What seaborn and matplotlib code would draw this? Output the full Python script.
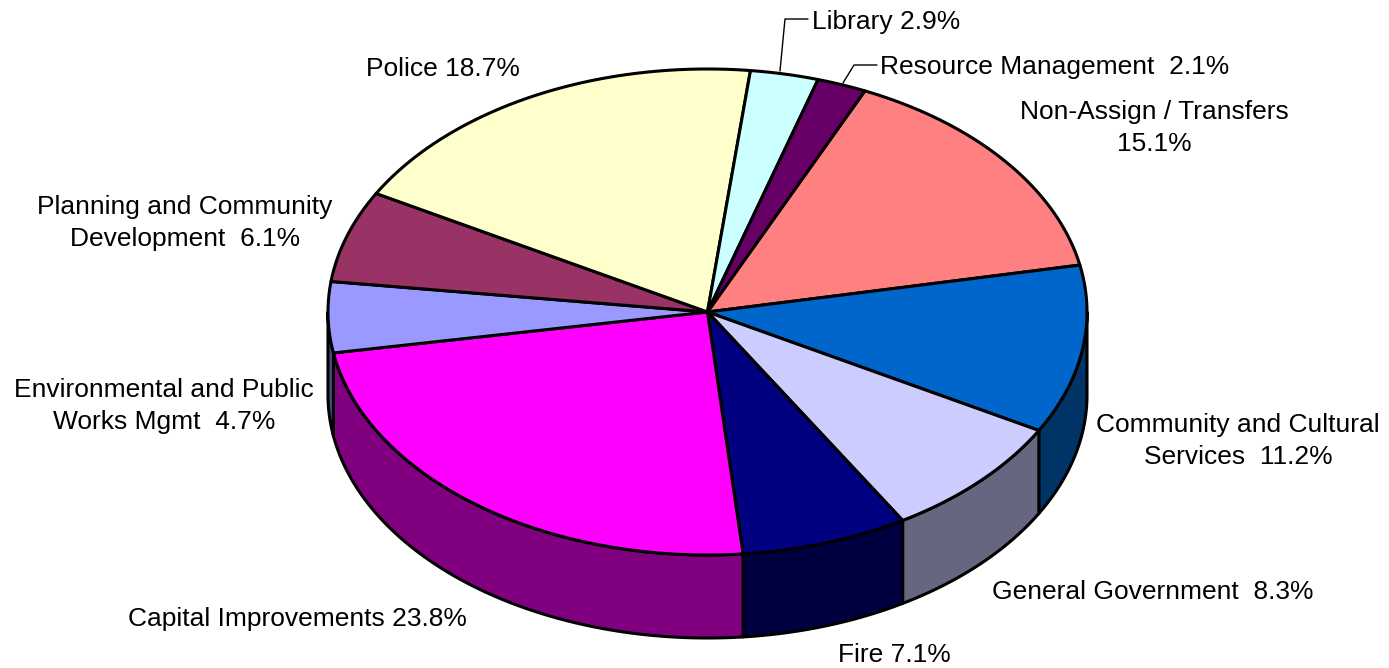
import numpy as np
import pandas as pd
import matplotlib
matplotlib.use('Agg')
import matplotlib.pyplot as plt
from matplotlib.patches import Polygon
import seaborn as sns

# data, clockwise from the Resource / Non-Assign edge
DEPARTMENTS = ['Non-Assign / Transfers', 'Community and Cultural Services', 'General Government',
               'Fire', 'Capital Improvements', 'Environmental and Public Works Mgmt',
               'Planning and Community Development', 'Police', 'Library', 'Resource Management']
SHARES = [15.1, 11.2, 8.3, 7.1, 23.8, 4.7, 6.1, 18.7, 2.9, 2.1]
COLORS = ['#FF8080', '#0066CC', '#CCCCFF', '#000080', '#FF00FF',
          '#9999FF', '#993366', '#FFFFCC', '#CCFFFF', '#660066']
LABELS = ['Non-Assign / Transfers\n15.1%', 'Community and Cultural\nServices  11.2%',
          'General Government  8.3%', 'Fire 7.1%', 'Capital Improvements 23.8%',
          'Environmental and Public\nWorks Mgmt  4.7%', 'Planning and Community\nDevelopment  6.1%',
          'Police 18.7%', 'Library 2.9%', 'Resource Management  2.1%']

# layout (pixels)
LABEL_POS = [(1154, 128), (1238, 441), (1153, 592), (894, 655), (297, 619),
             (164, 406), (185, 223), (443, 69), (886, 22), (1055, 67)]
CX, CY = 707.5, 312
RX, RY = 379.5, 243
DEPTH = 83
START_ANGLE = 24.5
EDGE_W = 2.2


def arc(a0, a1, dy=0):
    t = np.radians(np.linspace(a0, a1, 200))
    return np.column_stack([CX + RX * np.sin(t), CY - RY * np.cos(t) + dy])


sns.set_theme(style='white')
plt.rcParams['font.family'] = ['Liberation Sans', 'DejaVu Sans']

df = pd.DataFrame({'dept': DEPARTMENTS, 'share': SHARES, 'label': LABELS})
df['end'] = START_ANGLE + df['share'].cumsum() / df['share'].sum() * 360
df['start'] = df['end'].shift(1).fillna(START_ANGLE)
palette = sns.color_palette(COLORS)

fig = plt.figure(figsize=(13.89, 6.68), dpi=100)
ax = fig.add_axes([0, 0, 1, 1])
ax.set_xlim(0, 1389)
ax.set_ylim(668, 0)
ax.axis('off')

# side walls, only the part on the front half shows
for i, row in df.iterrows():
    a0, a1 = max(row['start'], 90), min(row['end'], 270)
    if a1 <= a0:
        continue
    shade = tuple(c * 0.5 for c in palette[i])
    pts = np.vstack([arc(a0, a1), arc(a0, a1, DEPTH)[::-1]])
    ax.add_patch(Polygon(pts, closed=True, facecolor=shade, edgecolor='black',
                         linewidth=EDGE_W, joinstyle='round', zorder=2))

# top face
for i, row in df.iterrows():
    pts = np.vstack([[CX, CY], arc(row['start'], row['end'])])
    ax.add_patch(Polygon(pts, closed=True, facecolor=palette[i], edgecolor='black',
                         linewidth=EDGE_W, joinstyle='round', zorder=3))

for (x, y), row in zip(LABEL_POS, df.itertuples()):
    ax.text(x, y, row.label, ha='center', va='center', fontsize=19, color='black',
            linespacing=1.46, zorder=5)

# leader lines
ax.plot([780, 785, 808], [71, 19, 19], color='black', lw=1.0, zorder=1)
ax.plot([843, 854, 877], [83, 65, 65], color='black', lw=1.0, zorder=1)

fig.savefig('out.png', dpi=100)
